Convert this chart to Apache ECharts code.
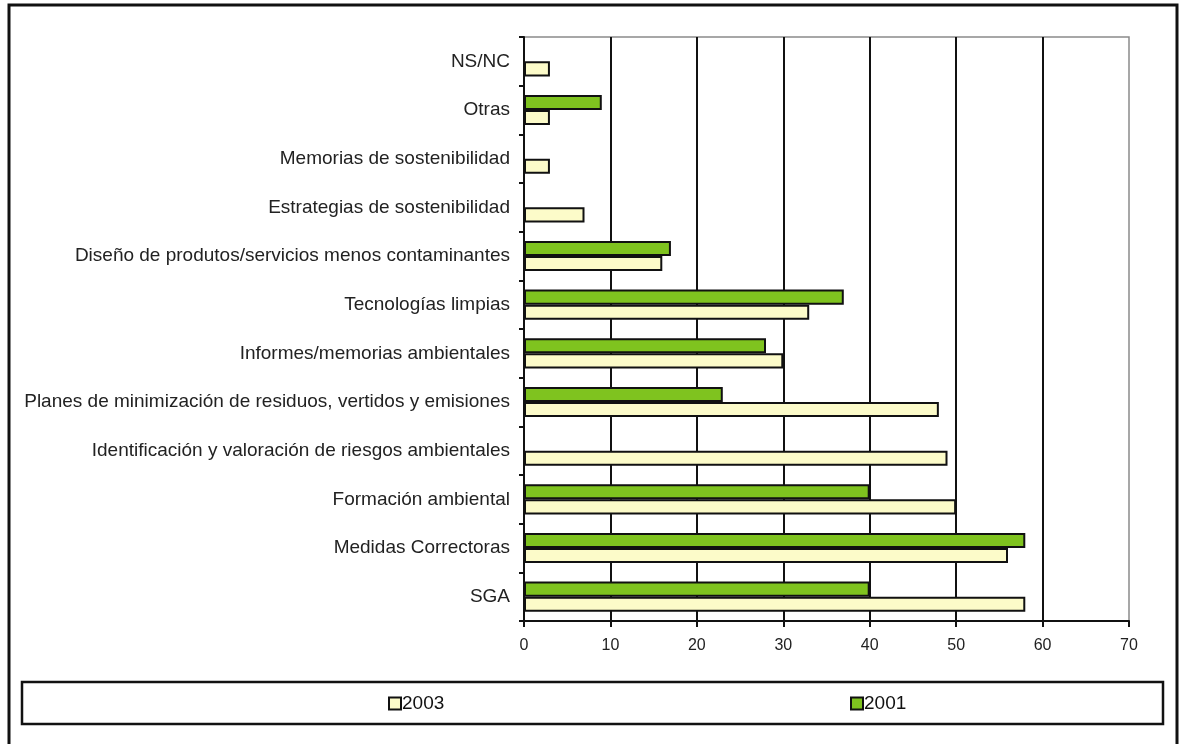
<!DOCTYPE html>
<html>
<head>
<meta charset="utf-8">
<script src="https://cdn.jsdelivr.net/npm/echarts@6/dist/echarts.min.js"></script>
<style>html,body{margin:0;padding:0;background:#fff}#c{width:1181px;height:744px}</style>
</head>
<body>
<div id="c"></div>
<script>
var categories = [
  'SGA',
  'Medidas Correctoras',
  'Formación ambiental',
  'Identificación y valoración de riesgos ambientales',
  'Planes de minimización de residuos, vertidos y emisiones',
  'Informes/memorias ambientales',
  'Tecnologías limpias',
  'Diseño de produtos/servicios menos contaminantes',
  'Estrategias de sostenibilidad',
  'Memorias de sostenibilidad',
  'Otras',
  'NS/NC'
];
var values2003 = [58, 56, 50, 49, 48, 30, 33, 16, 7, 3, 3, 3];
var values2001 = [40, 58, 40, null, 23, 28, 37, 17, null, null, 9, null];
var xTicks = [0, 10, 20, 30, 40, 50, 60, 70];

var chart = echarts.init(document.getElementById('c'));
var font = 'Liberation Sans, Arial, sans-serif';
var sq = 'path://M0 0L10 0L10 10L0 10Z';
chart.setOption({
  animation: false,
  backgroundColor: '#fff',
  textStyle: {fontFamily: font},
  grid: {left: 524, right: 52, top: 37, bottom: 123, show: true, borderColor: '#8a8a8a', borderWidth: 1.5, containLabel: false},
  xAxis: {
    type: 'value', min: xTicks[0], max: xTicks[xTicks.length - 1], interval: 10,
    axisLine: {show: true, lineStyle: {color: '#111', width: 2}},
    axisTick: {show: true, length: 6, lineStyle: {color: '#111', width: 2}},
    axisLabel: {color: '#222', fontSize: 16, margin: 17, fontFamily: font},
    splitLine: {show: true, showMinLine: false, showMaxLine: false, lineStyle: {color: '#111', width: 2}}
  },
  yAxis: {
    type: 'category', data: categories,
    axisLine: {show: true, lineStyle: {color: '#111', width: 2}},
    axisTick: {show: true, length: 5, lineStyle: {color: '#111', width: 2}},
    axisLabel: {color: '#222', fontSize: 19, margin: 14, fontFamily: font},
    splitLine: {show: false}
  },
  legend: [
    {data: [{name: '2003', icon: sq}], left: 383, top: 689, itemWidth: 12, itemHeight: 12, itemGap: 4,
     textStyle: {fontSize: 19, color: '#111', fontFamily: font, padding: [0,0,0,-4]}},
    {data: [{name: '2001', icon: sq}], left: 845, top: 689, itemWidth: 12, itemHeight: 12, itemGap: 4,
     textStyle: {fontSize: 19, color: '#111', fontFamily: font, padding: [0,0,0,-4]}}
  ],
  graphic: [
    {type: 'rect', shape: {x: 9, y: 5, width: 1168, height: 760}, style: {fill: 'none', stroke: '#111', lineWidth: 3}, silent: true},
    {type: 'rect', shape: {x: 22, y: 682, width: 1141, height: 42}, style: {fill: 'none', stroke: '#111', lineWidth: 2.5}, silent: true}
  ],
  series: [
    {name: '2001', type: 'bar', data: values2001, barGap: '0%', barCategoryGap: '38%',
     itemStyle: {color: '#7fc31f', borderColor: '#111', borderWidth: 2}},
    {name: '2003', type: 'bar', data: values2003, barGap: '0%', barCategoryGap: '38%',
     itemStyle: {color: '#fcfbc9', borderColor: '#111', borderWidth: 2}}
  ]
});
</script>
</body>
</html>
